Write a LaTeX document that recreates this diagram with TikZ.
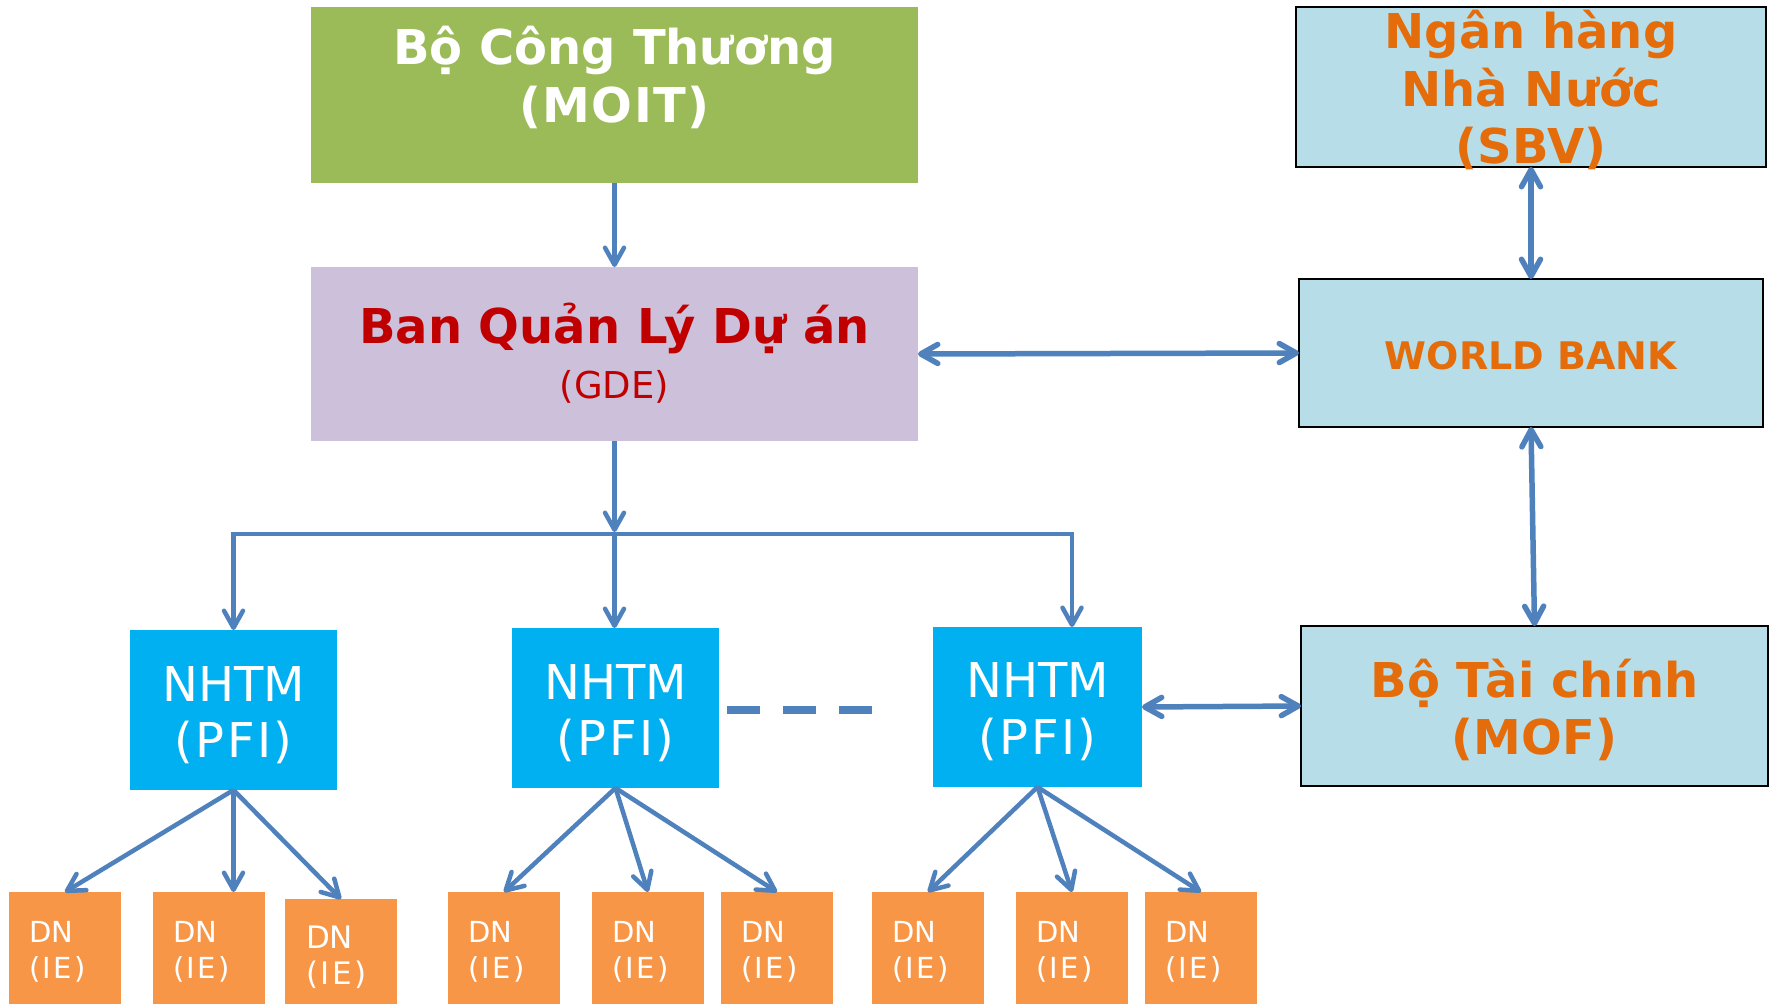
\documentclass[tikz,border=0pt]{standalone}
\usepackage{fontspec}
\setmainfont{DejaVu Sans}
\usetikzlibrary{arrows.meta,calc}
\definecolor{moitgreen}{HTML}{9BBB59}
\definecolor{gdelav}{HTML}{CCC0DA}
\definecolor{paleblue}{HTML}{B7DEE8}
\definecolor{pficyan}{HTML}{00B0F0}
\definecolor{dnorange}{HTML}{F79646}
\definecolor{arrowblue}{HTML}{4F81BD}
\definecolor{gdered}{HTML}{C00000}
\definecolor{orangetext}{HTML}{E46C0A}
\tikzset{
  box/.style={rectangle, inner sep=0pt, outer sep=0pt},
  framed/.style={box, fill=paleblue, draw=black, line width=2pt},
  lbl/.style={anchor=base, inner sep=0pt, outer sep=0pt},
  dnlbl/.style={anchor=base west, inner sep=0pt, outer sep=0pt, text=white},
  barb/.tip={Straight Barb[length=17pt,width=19pt,round]},
  conn/.style={draw=arrowblue, line width=4.5pt, -barb},
  conntwo/.style={draw=arrowblue, line width=5.5pt, barb-barb},
  dashline/.style={draw=arrowblue, line width=8.6pt, dash pattern=on 33pt off 23pt}
}
\newcommand{\fsz}[1]{\fontsize{#1}{#1}\selectfont}
\newcommand{\spaced}[1]{\addfontfeature{LetterSpace=#1}}
\begin{document}
\begin{tikzpicture}[x=1pt,y=-1pt]
\useasboundingbox (0,0) rectangle (1773,1004);

% boxes
\node[box, fill=moitgreen, minimum width=607pt, minimum height=176pt] (moit) at (614.5,95) {};
\node[box, fill=gdelav, minimum width=607pt, minimum height=174pt] (gde) at (614.5,354) {};
\node[framed, minimum width=470pt, minimum height=160pt] (sbv) at (1531,87) {};
\node[framed, minimum width=464pt, minimum height=148pt] (wb) at (1531,353) {};
\node[framed, minimum width=467pt, minimum height=160pt] (mof) at (1534.5,706) {};
\node[box, fill=pficyan, minimum width=207pt, minimum height=160pt] (pfi1) at (233.5,710) {};
\node[box, fill=pficyan, minimum width=207pt, minimum height=160pt] (pfi2) at (615.5,708) {};
\node[box, fill=pficyan, minimum width=209pt, minimum height=160pt] (pfi3) at (1037.5,707) {};

\foreach \i/\cx/\cy/\h in {1/65/948/112, 2/209/948/112, 3/341/951.5/105, 4/504/948/112,
  5/648/948/112, 6/777/948/112, 7/928/948/112, 8/1072/948/112, 9/1201/948/112}
  \node[box, fill=dnorange, minimum width=112pt, minimum height=\h pt] (dn\i) at (\cx,\cy) {};

% connectors
\coordinate (busM) at (614.5,534);
\coordinate (pfi3in) at (1072,627);
\draw[conn] (moit.south) -- (gde.north);
\draw[conn, shorten >=2pt] (gde.south) -- (busM);
\draw[conn, line join=miter] (busM) -| (pfi1.north);
\draw[conn, line join=miter] (busM) -| (pfi3in);
\draw[conn] (busM) -- (busM |- pfi2.north);

\draw[conntwo] (sbv.south) -- (wb.north);
\draw[conntwo] (gde.east) -- (wb.west);
\draw[conntwo] (wb.south) -- (mof.north);
\draw[conntwo] (pfi3.east) -- (mof.west);

\foreach \s/\t in {pfi1/dn1, pfi1/dn3, pfi2/dn4, pfi2/dn5, pfi2/dn6, pfi3/dn7, pfi3/dn8, pfi3/dn9}
  \draw[conn] (\s.south) -- (\t.north);
\draw[conn] (pfi1.south) -- (pfi1.south |- dn2.north);

\coordinate (dashA) at (727,710);
\coordinate (dashB) at (872,710);
\draw[dashline] (dashA) -- (dashB);

% texts
\node[lbl, text=white, font=\bfseries\fsz{48}] (moitA) at (614.5,64) {Bộ Công Thương};
\node[lbl, text=white, font=\bfseries\fsz{48}\spaced{3}] (moitB) at (614.5,122) {(MOIT)};
\node[lbl, text=gdered, font=\bfseries\fsz{48}] (gdeA) at (614.5,343) {Ban Quản Lý Dự án};
\node[lbl, text=gdered, font=\fsz{37}] (gdeB) at (614.5,398) {(GDE)};
\node[lbl, text=orangetext, font=\bfseries\fsz{48}] (sbvA) at (1531,48) {Ngân hàng};
\node[lbl, text=orangetext, font=\bfseries\fsz{48}] (sbvB) at (1531,106) {Nhà Nước};
\node[lbl, text=orangetext, font=\bfseries\fsz{48}] (sbvC) at (1531,163) {(SBV)};
\node[lbl, text=orangetext, font=\bfseries\fsz{38}] (wbA) at (1531,369) {WORLD BANK};
\node[lbl, text=orangetext, font=\bfseries\fsz{48}] (mofA) at (1534.5,697) {Bộ Tài chính};
\node[lbl, text=orangetext, font=\bfseries\fsz{48}] (mofB) at (1534.5,754) {(MOF)};

\foreach \n/\cx/\ya/\yb in {1/233.5/701/757, 2/615.5/699/755, 3/1037.5/697/754} {
  \node[lbl, text=white, font=\fsz{48}] (pfi\n A) at (\cx,\ya) {NHTM};
  \node[lbl, text=white, font=\fsz{48}\spaced{5}] (pfi\n B) at (\cx,\yb) {(PFI)};
}

\foreach \i/\lx in {1/9, 2/153, 4/448, 5/592, 6/721, 7/872, 8/1016, 9/1145} {
  \node[dnlbl, font=\fsz{29}] (dn\i A) at (\lx+20,942) {DN};
  \node[dnlbl, font=\fsz{29}\spaced{8}] (dn\i B) at (\lx+20,978) {(IE)};
}
\node[dnlbl, font=\fsz{31}] (dn3A) at (306,948) {DN};
\node[dnlbl, font=\fsz{31}\spaced{8}] (dn3B) at (306,984) {(IE)};
\end{tikzpicture}
\end{document}
